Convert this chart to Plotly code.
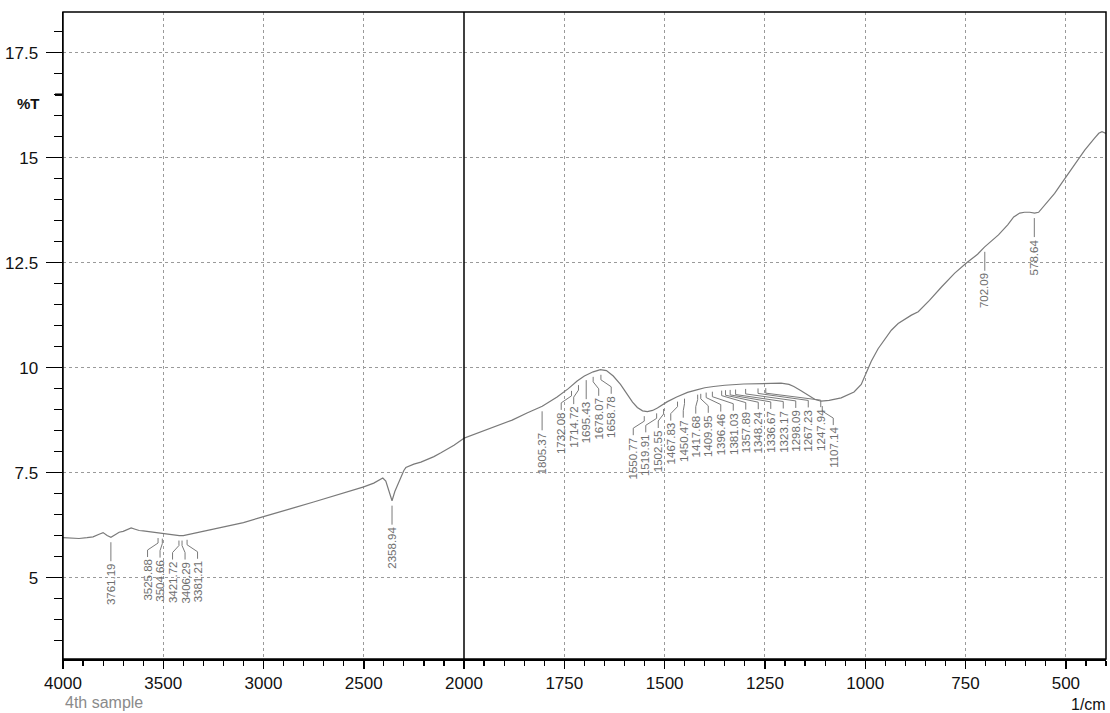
import numpy as np
import plotly.graph_objects as go

# ---------------- data ----------------
wavenumber = [
    4000, 3960, 3920, 3880, 3850, 3820, 3800, 3780, 3761, 3740, 3720, 3700, 3680, 3660,
    3640, 3620, 3600, 3570, 3540, 3510, 3480, 3450, 3420, 3400, 3380, 3350, 3300, 3250,
    3180, 3100, 3000, 2900, 2850, 2750, 2680, 2600, 2500, 2450, 2405, 2390, 2375, 2359,
    2345, 2320, 2300, 2290, 2250, 2215, 2150, 2115, 2050, 2000,
    1950, 1927, 1880, 1843, 1805, 1768, 1740, 1718, 1700, 1678, 1660, 1645, 1628, 1610,
    1593, 1580, 1568, 1555, 1543, 1530, 1518, 1505, 1493, 1470, 1443, 1420, 1400, 1378,
    1350, 1303, 1250, 1210, 1190, 1178, 1160, 1143, 1125, 1110, 1090, 1060, 1028, 1010,
    998, 985, 968, 950, 935, 918, 903, 885, 868, 840, 810, 777, 748, 720, 703, 668, 645,
    630, 615, 603, 590, 578, 568, 550, 528, 510, 493, 470, 453, 430, 418, 410, 400,
]
transmittance = [
    5.95, 5.94, 5.93, 5.95, 5.97, 6.03, 6.07, 6.00, 5.96, 6.02, 6.08, 6.10, 6.14, 6.18,
    6.15, 6.12, 6.11, 6.09, 6.07, 6.05, 6.03, 6.01, 6.00, 6.00, 6.02, 6.05, 6.10, 6.15,
    6.22, 6.31, 6.45, 6.58, 6.66, 6.80, 6.90, 7.01, 7.16, 7.25, 7.37, 7.30, 7.05, 6.83,
    7.05, 7.35, 7.55, 7.62, 7.70, 7.75, 7.88, 7.97, 8.15, 8.32,
    8.50, 8.57, 8.75, 8.92, 9.08, 9.30, 9.50, 9.68, 9.80, 9.90, 9.95, 9.93, 9.80, 9.60,
    9.36, 9.18, 9.05, 8.97, 8.95, 8.98, 9.04, 9.12, 9.19, 9.30, 9.41, 9.47, 9.52, 9.55,
    9.58, 9.61, 9.63, 9.63, 9.60, 9.55, 9.45, 9.35, 9.24, 9.20, 9.22, 9.28, 9.42, 9.60,
    9.85, 10.15, 10.45, 10.70, 10.89, 11.05, 11.15, 11.25, 11.33, 11.60, 11.92, 12.25,
    12.49, 12.70, 12.87, 13.16, 13.40, 13.59, 13.68, 13.70, 13.70, 13.68, 13.70, 13.90,
    14.15, 14.40, 14.63, 14.95, 15.18, 15.45, 15.58, 15.62, 15.58,
]
peak_wavenumbers = [
    3761.19, 3525.88, 3504.66, 3421.72, 3406.29, 3381.21, 2358.94, 1805.37,
    1732.08, 1714.72, 1695.43, 1678.07, 1658.78,
    1550.77, 1519.91, 1502.55, 1467.83, 1450.47, 1417.68, 1409.95, 1396.46, 1381.03,
    1357.89, 1348.24, 1336.67, 1323.17, 1298.09, 1267.23, 1247.94, 1107.14,
    702.09, 578.64,
]
peak_groups = [0, 1, 1, 1, 1, 1, 2, 3, 4, 4, 4, 4, 4,
               5, 5, 5, 5, 5, 5, 5, 5, 5, 5, 5, 5, 5, 5, 5, 5, 5, 6, 7]
y_tick_values = [5, 7.5, 10, 12.5, 15, 17.5]
x_left_ticks = [4000, 3500, 3000, 2500, 2000]
x_right_ticks = [1750, 1500, 1250, 1000, 750, 500]
sample_name = "4th sample"
y_title = "%T"
x_unit = "1/cm"

# ---------------- layout constants ----------------
W, H = 1110, 713
ML, MR, MT, MB = 63, 4, 12, 54
PW, PH = W - ML - MR, H - MT - MB
SPLIT = 401 / PW
XL = (4000, 2000)
XR = (2000, 400)
Y0, Y1 = 3.06, 18.47
GRAY = "#7a7a7a"
LABEL_GRAY = "#6e6e6e"
FONT = "Liberation Sans, Arial, sans-serif"


def x_to_px(x):
    if x >= XL[1]:
        return ML + (XL[0] - x) / (XL[0] - XL[1]) * SPLIT * PW
    return ML + SPLIT * PW + (XR[0] - x) / (XR[0] - XR[1]) * (1 - SPLIT) * PW


def px_to_x(px, left):
    if left:
        return XL[0] - (px - ML) / (SPLIT * PW) * (XL[0] - XL[1])
    return XR[0] - (px - ML - SPLIT * PW) / ((1 - SPLIT) * PW) * (XR[0] - XR[1])


def y_to_py(y):
    return MT + (Y1 - y) / (Y1 - Y0) * PH


def py_to_y(py):
    return Y1 - (py - MT) / PH * (Y1 - Y0)


wn = np.array(wavenumber, dtype=float)
tr = np.array(transmittance, dtype=float)


def curve(x):
    return float(np.interp(x, wn[::-1], tr[::-1]))


fig = go.Figure()

left_mask = wn >= 2000
right_mask = wn <= 2000
fig.add_trace(go.Scatter(x=wn[left_mask], y=tr[left_mask], mode="lines",
                         line=dict(color=GRAY, width=1.2), xaxis="x", yaxis="y",
                         hoverinfo="skip", showlegend=False))
fig.add_trace(go.Scatter(x=wn[right_mask], y=tr[right_mask], mode="lines",
                         line=dict(color=GRAY, width=1.2), xaxis="x2", yaxis="y",
                         hoverinfo="skip", showlegend=False))

# ---------------- peak labels ----------------
SPACING = 12.5
GAP, DROP = 5, 24
cols = {}
for g in sorted(set(peak_groups)):
    idx = [i for i, gg in enumerate(peak_groups) if gg == g]
    idx.sort(key=lambda i: x_to_px(peak_wavenumbers[i]))
    pxs = [x_to_px(peak_wavenumbers[i]) for i in idx]
    mid = (min(pxs) + max(pxs)) / 2
    n = len(idx)
    for k, i in enumerate(idx):
        cols[i] = mid + (k - (n - 1) / 2) * SPACING

lead = {True: ([], []), False: ([], [])}
annotations = []
for i, p in enumerate(peak_wavenumbers):
    left = p >= 2000
    ppx = x_to_px(p)
    c = y_to_py(curve(p))
    top = c + DROP
    col = cols[i]
    if abs(col - ppx) < 0.5:
        pts = [(ppx, c + GAP), (ppx, top)]
    else:
        pts = [(ppx, c + GAP), (ppx, c + GAP + 5), (col, top - 7), (col, top)]
    xs, ys = lead[left]
    for (a, b) in pts:
        xs.append(px_to_x(a, left))
        ys.append(py_to_y(b))
    xs.append(None)
    ys.append(None)
    annotations.append(dict(
        x=px_to_x(col, left), y=py_to_y(top + 1), xref="x" if left else "x2", yref="y",
        text=f"{p:.2f}", textangle=-90, xanchor="center", yanchor="top",
        showarrow=False, font=dict(family=FONT, size=11.5, color=LABEL_GRAY),
        borderpad=0,
    ))

for left, (xs, ys) in lead.items():
    fig.add_trace(go.Scatter(x=xs, y=ys, mode="lines",
                             line=dict(color=GRAY, width=1),
                             xaxis="x" if left else "x2", yaxis="y",
                             hoverinfo="skip", showlegend=False))

annotations += [
    dict(x=0, y=-0.068, xref="paper", yref="paper", text=sample_name, showarrow=False,
         xanchor="left", yanchor="middle", font=dict(family=FONT, size=16, color="#8a8a8a")),
    dict(x=1.002, y=-0.071, xref="paper", yref="paper", text=x_unit, showarrow=False,
         xanchor="right", yanchor="middle", font=dict(family=FONT, size=16, color="#111")),
    dict(x=(42 - ML) / PW, y=16.3, xref="paper", yref="y", text=f"<b>{y_title}</b>",
         showarrow=False, xanchor="right", yanchor="middle",
         font=dict(family=FONT, size=15, color="#111")),
]

grid = dict(showgrid=True, gridcolor="#9a9a9a", gridwidth=1, griddash="3px,3px")
tickfont = dict(family=FONT, size=17, color="#111")

fig.update_layout(
    width=W, height=H,
    margin=dict(l=ML, r=MR, t=MT, b=MB, pad=0, autoexpand=False),
    paper_bgcolor="white", plot_bgcolor="white",
    showlegend=False,
    xaxis=dict(domain=[0, SPLIT], range=list(XL), anchor="y", automargin=False,
               tickmode="array", tickvals=x_left_ticks,
               ticks="outside", ticklen=8, tickwidth=1.5, tickcolor="black",
               minor=dict(dtick=100, tick0=0, ticks="outside", ticklen=5,
                          tickwidth=1.2, tickcolor="black", showgrid=False),
               showline=True, linecolor="black", linewidth=1.5,
               zeroline=False, tickfont=tickfont, **grid),
    xaxis2=dict(domain=[SPLIT, 1], range=list(XR), anchor="y", automargin=False,
                tickmode="array", tickvals=x_right_ticks,
                ticks="outside", ticklen=8, tickwidth=1.5, tickcolor="black",
                minor=dict(dtick=50, tick0=0, ticks="outside", ticklen=5,
                           tickwidth=1.2, tickcolor="black", showgrid=False),
                showline=True, linecolor="black", linewidth=1.5,
                zeroline=False, tickfont=tickfont, **grid),
    yaxis=dict(domain=[0, 1], range=[Y0, Y1], anchor="x", automargin=False,
               tickmode="array", tickvals=y_tick_values,
               ticks="outside", ticklen=16, tickwidth=1.5, tickcolor="black",
               minor=dict(dtick=0.5, tick0=0, ticks="outside", ticklen=8,
                          tickwidth=1.2, tickcolor="black", showgrid=False),
               showline=True, linecolor="black", linewidth=1.5,
               ticklabelstandoff=4,
               zeroline=False, tickfont=tickfont, **grid),
    annotations=annotations,
    shapes=[
        dict(type="rect", xref="paper", yref="paper", x0=0, x1=1, y0=0, y1=1,
             line=dict(color="black", width=1.5), layer="above"),
        dict(type="line", xref="paper", yref="paper", x0=SPLIT, x1=SPLIT, y0=0, y1=1,
             line=dict(color="black", width=1.5), layer="above"),
        dict(type="line", xref="paper", yref="y", x0=(55 - ML) / PW, x1=0, y0=16.5, y1=16.5,
             line=dict(color="black", width=2.5)),
    ],
)

fig.write_html(
    "out.html",
    config={"displayModeBar": False, "staticPlot": True},
    post_script="document.body.style.margin='0';document.body.style.overflow='hidden';",
)
